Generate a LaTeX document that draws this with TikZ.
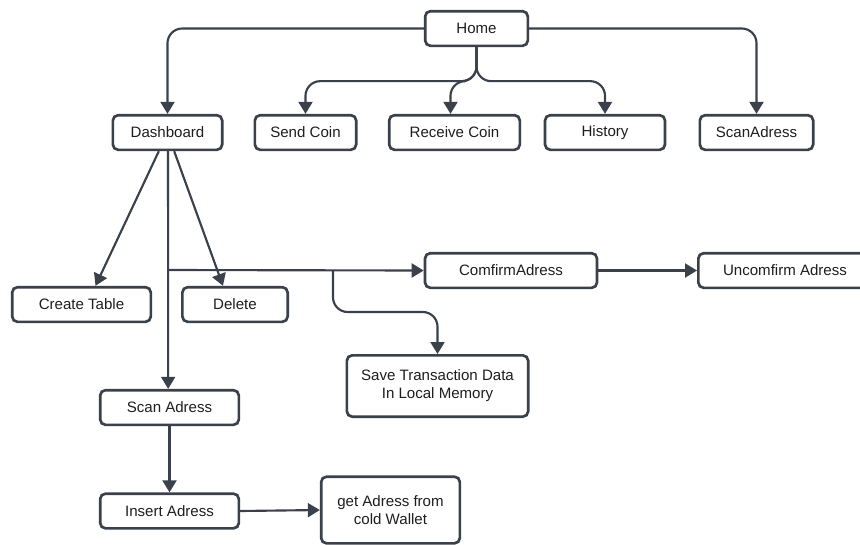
\documentclass[tikz,border=0pt]{standalone}
\usepackage{fontspec}
\setmainfont{Liberation Sans}
\usetikzlibrary{arrows.meta}
\definecolor{ink}{HTML}{3A414A}
\definecolor{txt}{HTML}{1E1E1E}
\tikzset{
  box/.style={draw=ink, line width=2pt, rounded corners=4pt, fill=white,
    minimum height=26pt, inner sep=0pt, align=center, text=txt,
    font=\fontsize{11.3}{13.5}\selectfont},
  link/.style={draw=ink, line width=1.6pt, rounded corners=11pt,
    -{Triangle[width=10.5pt,length=9pt]}},
  wire/.style={draw=ink, line width=1.6pt}
}
\begin{document}
\begin{tikzpicture}[x=0.75pt,y=-0.75pt]
    % page frame (860 x 544 px)
    \clip (0,0) rectangle (860,544);
    \fill[white] (0,0) rectangle (860,544);

    % top row
    \node[box, minimum width=77pt] (home) at (476.5,28.5) {Home};
    \node[box, minimum width=82pt] (dash) at (167.5,132.5) {Dashboard};
    \node[box, minimum width=76pt] (send) at (305.5,132.5) {Send Coin};
    \node[box, minimum width=98pt] (recv) at (454.5,132.5) {Receive Coin};
    \node[box, minimum width=90pt] (hist) at (605,132.5) {History};
    \node[box, minimum width=85pt] (scan) at (756.5,132.5) {ScanAdress};

    % dashboard children
    \node[box, minimum width=104pt] (table) at (81.5,304.5) {Create Table};
    \node[box, minimum width=79pt] (del) at (235,304.5) {Delete};
    \node[box, minimum width=129pt] (comf) at (511,270.5) {ComfirmAdress};
    \node[box, minimum width=130pt] (uncomf) at (785,270.5) {Uncomfirm Adress};
    \node[box, minimum width=136pt, minimum height=46pt] (save) at (437.5,386)
      {Save Transaction Data\\In Local Memory};
    \node[box, minimum width=104pt] (scanadr) at (169.5,407.5) {Scan Adress};
    \node[box, minimum width=104pt] (insert) at (169.5,511) {Insert Adress};
    \node[box, minimum width=104pt, minimum height=50pt] (cold) at (390.5,510)
      {get Adress from\\cold Wallet};

    % Home -> top row
    \draw[link] (home.west) -| (dash.north);
    \draw[link] (home.east) -| (scan.north);
    \draw[link] (home.south) -- ++(0,34) -| (send.north);
    \draw[link] (home.south) -- ++(0,34) -| ([xshift=-3pt]recv.north);
    \draw[link] (home.south) -- ++(0,34) -| (hist.north);

    % Dashboard -> children
    \coordinate (fork) at (168,270);
    \coordinate (split) at (333,270);
    \draw[link] ([xshift=-6.5pt]dash.south) -- ([xshift=10.5pt]table.north);
    \draw[link] ([xshift=5pt]dash.south) -- ([xshift=-9pt]del.north);
    \draw[link] ([xshift=0.4pt]dash.south) -- ([xshift=-1pt]scanadr.north);
    \draw[link] (fork) -- (comf.west);
    \draw[link] (split) |- (380,312) -| (save.north);
    \draw[link] (comf.east) -- (uncomf.west);

    % scan flow
    \draw[link] (scanadr.south) -- (insert.north);
    \draw[link] (insert.east) -- (cold.west);
\end{tikzpicture}
\end{document}
